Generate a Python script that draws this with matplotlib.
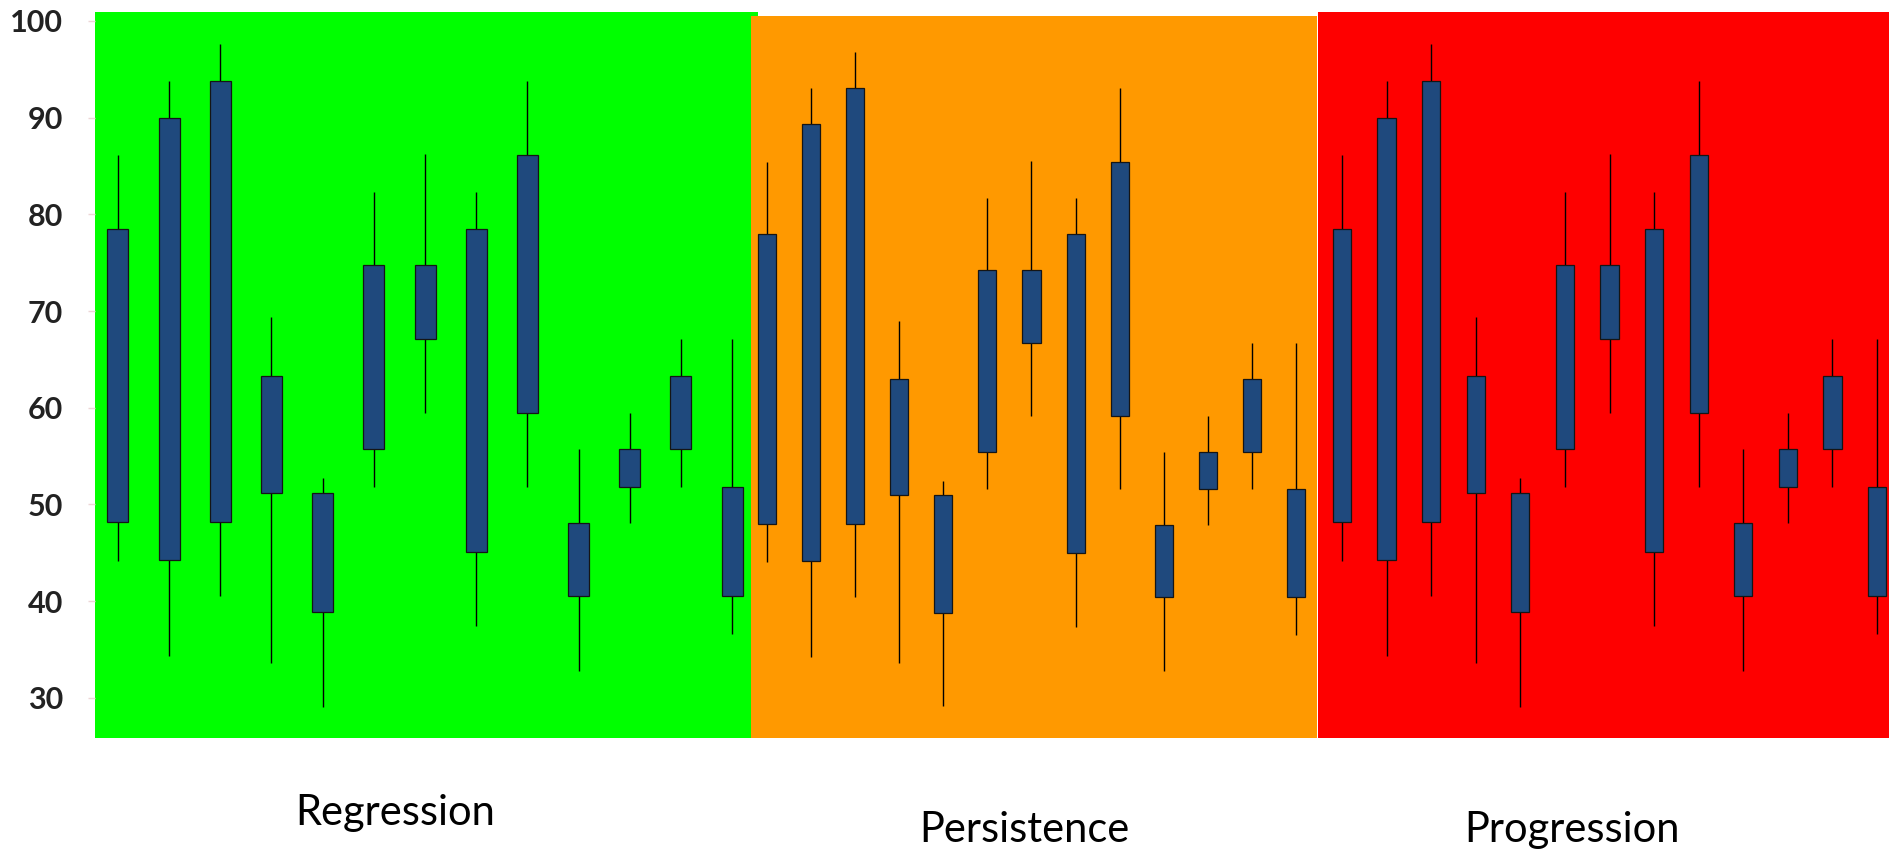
import numpy as np
import matplotlib
matplotlib.use("Agg")
import matplotlib.pyplot as plt

# ---- data ----
box_low   = [48.2, 44.3, 48.2, 51.2, 38.9, 55.7, 67.1, 45.1, 59.5, 40.5, 51.8, 55.7, 40.5]
box_high  = [78.5, 90.0, 93.8, 63.3, 51.2, 74.8, 74.8, 78.5, 86.1, 48.1, 55.7, 63.3, 51.8]
wick_low  = [44.2, 34.3, 40.5, 33.6, 29.1, 51.8, 59.5, 37.4, 51.8, 32.8, 48.1, 51.8, 36.6]
wick_high = [86.1, 93.8, 97.6, 69.4, 52.7, 82.3, 86.2, 82.3, 93.8, 55.7, 59.5, 67.1, 67.1]

panel_labels = ["Regression", "Persistence", "Progression"]
panel_colors = ["#00FF00", "#FF9900", "#FE0000"]
y_ticks = [30, 40, 50, 60, 70, 80, 90, 100]

# ---- layout (pixel geometry of the three panels) ----
W, H = 1890, 851
fig = plt.figure(figsize=(W / 100, H / 100), dpi=100)

def rect(left, right, top, bottom):
    return [left / W, (H - bottom) / H, (right - left) / W, (bottom - top) / H]

panels = [
    dict(rect=rect(95, 758, 12, 738),      xlim=(-0.449, 12.507), ylim=(25.85, 100.93)),
    dict(rect=rect(751, 1317.5, 15.7, 738), xlim=(-0.363, 12.489), ylim=(25.78, 101.37)),
    dict(rect=rect(1318.5, 1890, 12, 738),  xlim=(-0.527, 12.29),  ylim=(25.85, 100.93)),
]
label_pos = [(395.5, 825), (1024, 842), (1572, 842)]

x = np.arange(len(box_low))
bl = np.array(box_low); bh = np.array(box_high)

for i, p in enumerate(panels):
    ax = fig.add_axes(p["rect"])
    ax.set_facecolor(panel_colors[i])
    ax.vlines(x, wick_low, wick_high, color="black", linewidth=1.0, zorder=2)
    ax.bar(x, bh - bl, bottom=bl, width=0.41, color="#1F497D",
           edgecolor="#151515", linewidth=0.9, zorder=3)
    ax.set_xlim(*p["xlim"])
    ax.set_ylim(*p["ylim"])
    for s in ax.spines.values():
        s.set_visible(False)
    ax.set_xticks([])
    if i == 0:
        ax.set_yticks(y_ticks)
        ax.set_yticklabels([str(t) for t in y_ticks], fontfamily="Lato",
                           fontweight="bold", fontsize=22, color="#222222")
        ax.tick_params(axis="y", length=5, width=1, color="#ecd6d6", pad=18)
    else:
        ax.set_yticks([])
    fig.text(label_pos[i][0] / W, 1 - label_pos[i][1] / H, panel_labels[i],
             ha="center", va="baseline", fontfamily="Lato", fontsize=30,
             color="black")

fig.savefig("out.png", dpi=100, facecolor="white")
